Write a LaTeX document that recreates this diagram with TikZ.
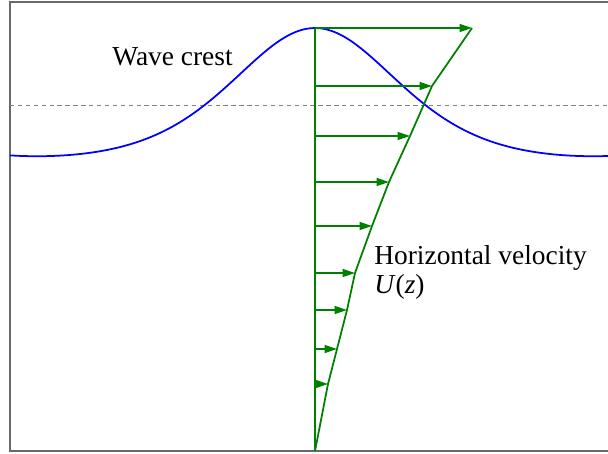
\documentclass[tikz,border=0pt]{standalone}
\usepackage{fontspec}
\setmainfont{Liberation Serif}
\usepackage{tikz}
\usetikzlibrary{arrows.meta}
\definecolor{WaveBlue}{RGB}{0,0,255}
\definecolor{VelGreen}{RGB}{0,128,0}
\definecolor{FrameGray}{RGB}{105,105,105}

\begin{document}
\begin{tikzpicture}[
x=0.02cm,y=-0.02cm,
frame/.style={draw=FrameGray,line width=1.1pt},
wave/.style={draw=WaveBlue,line width=1pt},
level/.style={draw=gray,line width=0.5pt,dash pattern=on 2.5pt off 2pt},
vel/.style={draw=VelGreen,line width=1pt,-{Triangle[length=0.25cm,width=0.16cm]}},
profile/.style={draw=VelGreen,line width=1pt},
label/.style={font=\fontsize{15.6}{18}\selectfont,inner sep=0pt}
]
\useasboundingbox (0,0) rectangle (608,453);

% frame
\draw[frame] (612,2) -- (10,2) -- (10,451) -- (612,451);

% still water level
\draw[level] (10,105) -- (608,105);

% wave profile
\draw[wave] plot[domain=10:608,samples=200]
  (\x,{156-128*(1/(cosh(0.0089*abs(\x-315)))^2
    +1/(cosh(0.0089*(556-abs(\x-315))))^2-0.0578)/0.9424});

% velocity arrows
\coordinate (bot) at (315,451);
\coordinate (crest) at (315,28);
\foreach \i/\y/\u in {1/28/157,2/86/117,3/136/95,4/182/74,5/226/57,
                      6/273/40,7/310/32,8/349/22,9/384/13}{
  \coordinate (a\i) at (315,\y);
  \coordinate (t\i) at (315+\u,\y);
  \draw[vel] (a\i) -- (t\i);
}
\draw[profile] (bot) -- (crest);
\draw[profile] (bot) -- (t9) -- (t8) -- (t7) -- (t6) -- (t5) -- (t4) -- (t3) -- (t2) -- (t1);

% labels
\node[label,anchor=base west] (crestlbl) at (112,65) {Wave crest};
\node[label,anchor=base west] (vellbl) at (374,264) {Horizontal velocity};
\node[label,anchor=base west] (ulbl) at (374,293) {\textit{U}(\textit{z})};

\end{tikzpicture}
\end{document}
